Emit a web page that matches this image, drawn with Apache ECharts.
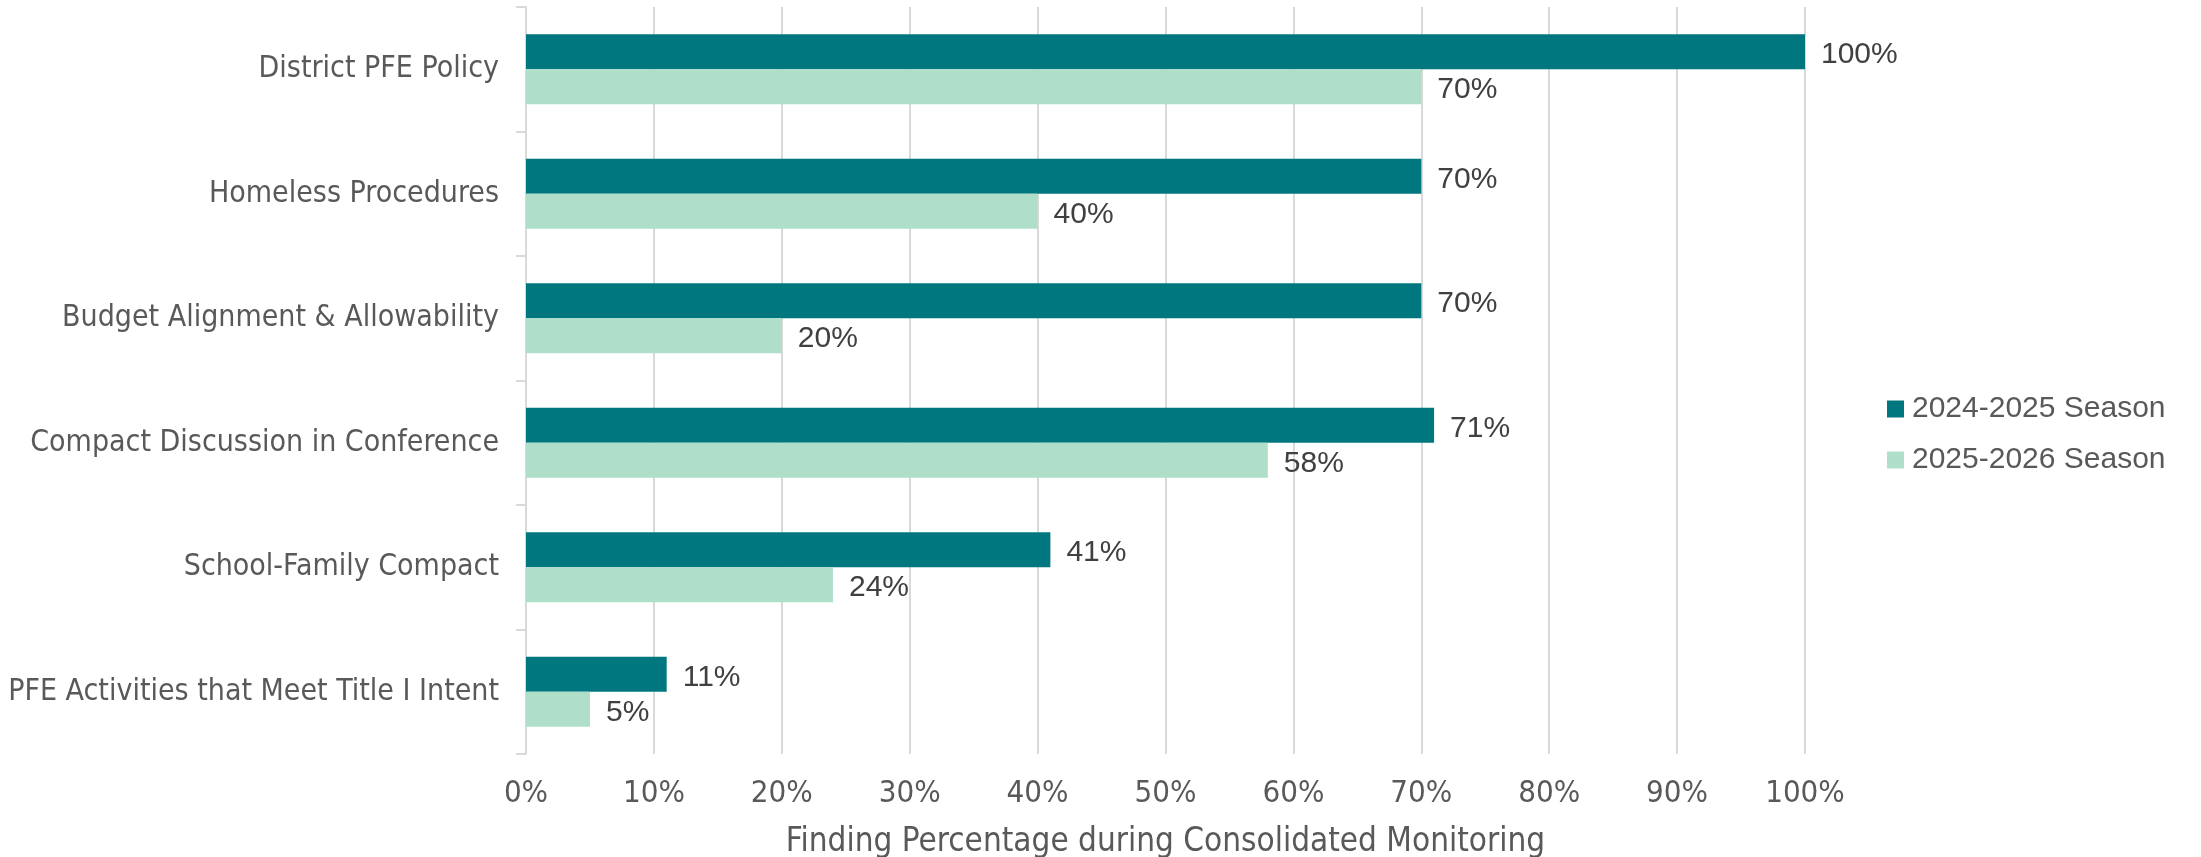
<!DOCTYPE html>
<html>
<head>
<meta charset="utf-8">
<script src="https://cdn.jsdelivr.net/npm/echarts@6/dist/echarts.min.js"></script>
<style>
html,body{margin:0;padding:0;background:#fff;}
#chart{width:2201px;height:857px;}
</style>
</head>
<body>
<div id="chart"></div>
<script>
const categories = [
  "District PFE Policy",
  "Homeless Procedures",
  "Budget Alignment & Allowability",
  "Compact Discussion in Conference",
  "School-Family Compact",
  "PFE Activities that Meet Title I Intent"
];
const season2425 = [100, 70, 70, 71, 41, 11];
const season2526 = [70, 40, 20, 58, 24, 5];
const seriesNames = ["2024-2025 Season", "2025-2026 Season"];
const axisTitle = "Finding Percentage during Consolidated Monitoring";

const narrow = "'Liberation Sans Narrow', 'Arial Narrow', 'DejaVu Sans Condensed', sans-serif";
const regular = "'Liberation Sans', Arial, sans-serif";

const chart = echarts.init(document.getElementById('chart'), null, {renderer: 'canvas'});
const labelCfg = {
  show: true, position: 'right', distance: 16, offset: [0, 3],
  formatter: '{c}%', color: '#404040', fontSize: 30, fontFamily: regular
};
chart.setOption({
  animation: false,
  backgroundColor: '#ffffff',
  grid: {left: 526, right: 396, top: 7, bottom: 103, containLabel: false, outerBoundsMode: 'none'},
  legend: {
    orient: 'vertical', left: 1882, top: 389,
    itemWidth: 17, itemHeight: 17, itemGap: 21,
    icon: 'rect',
    textStyle: {fontSize: 30, fontFamily: regular, color: '#595959', lineHeight: 30, padding: [0, 0, 0, 3]},
    data: seriesNames
  },
  xAxis: {
    type: 'value', min: 0, max: 100, interval: 10,
    axisLine: {show: false}, axisTick: {show: false},
    splitLine: {show: true, lineStyle: {color: '#D9D9D9', width: 2}},
    axisLabel: {formatter: '{value}%', fontSize: 31, fontFamily: narrow, color: '#595959', margin: 24},
    name: axisTitle, nameLocation: 'middle', nameGap: 72,
    nameTextStyle: {fontSize: 33, fontFamily: narrow, color: '#595959'}
  },
  yAxis: {
    type: 'category', data: categories, inverse: true,
    axisLine: {show: true, lineStyle: {color: '#D9D9D9', width: 2}},
    axisTick: {show: true, length: 10, lineStyle: {color: '#D9D9D9', width: 2}},
    axisLabel: {fontSize: 30, fontFamily: narrow, color: '#595959', margin: 27},
    splitLine: {show: false}
  },
  series: [
    {name: seriesNames[0], type: 'bar', data: season2425, barWidth: 35, barGap: '0%',
     itemStyle: {color: '#00777F'}, label: labelCfg},
    {name: seriesNames[1], type: 'bar', data: season2526, barWidth: 35,
     itemStyle: {color: '#AFDFC9'}, label: labelCfg}
  ]
});
</script>
</body>
</html>
